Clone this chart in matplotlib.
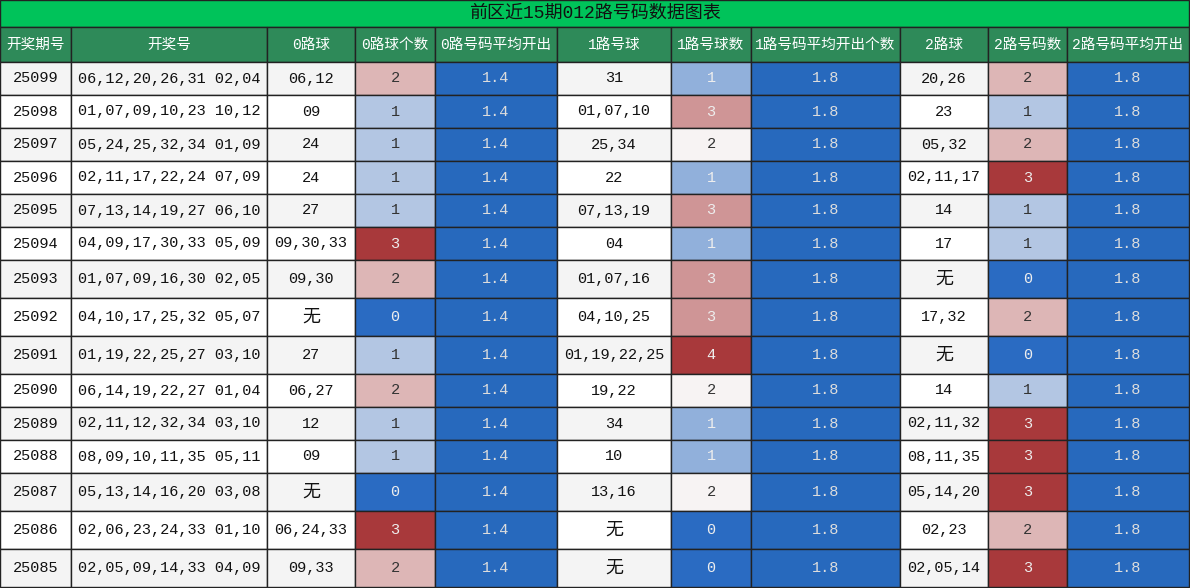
import matplotlib
matplotlib.use("Agg")
import matplotlib.pyplot as plt
from matplotlib.colors import LinearSegmentedColormap, Normalize
from matplotlib.patches import Rectangle

title = "前区近15期012路号码数据图表"
headers = ["开奖期号", "开奖号", "0路球", "0路球个数", "0路号码平均开出", "1路号球", "1路号球数",
           "1路号码平均开出个数", "2路球", "2路号码数", "2路号码平均开出"]
periods = ["25099","25098","25097","25096","25095","25094","25093","25092","25091","25090",
           "25089","25088","25087","25086","25085"]
draws = ["06,12,20,26,31 02,04","01,07,09,10,23 10,12","05,24,25,32,34 01,09","02,11,17,22,24 07,09",
         "07,13,14,19,27 06,10","04,09,17,30,33 05,09","01,07,09,16,30 02,05","04,10,17,25,32 05,07",
         "01,19,22,25,27 03,10","06,14,19,22,27 01,04","02,11,12,32,34 03,10","08,09,10,11,35 05,11",
         "05,13,14,16,20 03,08","02,06,23,24,33 01,10","02,05,09,14,33 04,09"]
balls0 = ["06,12","09","24","24","27","09,30,33","09,30","无","27","06,27","12","09","无","06,24,33","09,33"]
cnt0 = [2,1,1,1,1,3,2,0,1,2,1,1,0,3,2]
avg0 = [1.4]*15
balls1 = ["31","01,07,10","25,34","22","07,13,19","04","01,07,16","04,10,25","01,19,22,25","19,22",
          "34","10","13,16","无","无"]
cnt1 = [1,3,2,1,3,1,3,3,4,2,1,1,2,0,0]
avg1 = [1.8]*15
balls2 = ["20,26","23","05,32","02,11,17","14","17","无","17,32","无","14","02,11,32","08,11,35",
          "05,14,20","02,23","02,05,14"]
cnt2 = [2,1,2,3,1,1,0,2,0,1,3,3,3,2,3]
avg2 = [1.8]*15

W, H = 1190, 588
colx = [0, 71, 267, 355, 435, 557, 671, 751, 900, 988, 1067, 1189]
cmap = LinearSegmentedColormap.from_list("bwr2", ["#2a6bc2", "#f7f4f4", "#a8393b"])
avg_color = "#2769bd"

fig = plt.figure(figsize=(W/100, H/100), dpi=100)
ax = fig.add_axes([0, 0, 1, 1])
ax.set_xlim(0, W); ax.set_ylim(H, 0); ax.axis("off")

mono = "Liberation Mono"
cjk = ["Liberation Mono", "Noto Sans CJK SC"]
plt.rcParams["font.family"] = ["Liberation Mono", "Noto Sans CJK SC"]

def cell(x0, x1, y0, y1, text, bg, tc="#111111", size=11):
    ax.add_patch(Rectangle((x0, y0), x1-x0, y1-y0, facecolor=bg, edgecolor="#222222", lw=1))
    ax.text((x0+x1)/2, (y0+y1)/2, text, ha="center", va="center", color=tc, fontsize=size,
            family=cjk)

cell(0, W-1, 0, 27, title, "#00c35a", "#111111", 13)
for i, h in enumerate(headers):
    cell(colx[i], colx[i+1], 27, 62, h, "#2e8a59", "white", 10.5)

y = 62
counts = [cnt0, cnt1, cnt2]
norms = [Normalize(min(c), max(c)) for c in counts]
for r in range(15):
    rh = 38 if "无" in (balls0[r], balls1[r], balls2[r]) else 33
    rowbg = "#f4f4f4" if r % 2 == 0 else "white"
    vals = [periods[r], draws[r], balls0[r], cnt0[r], avg0[r], balls1[r], cnt1[r], avg1[r],
            balls2[r], cnt2[r], avg2[r]]
    for c, v in enumerate(vals):
        x0, x1 = colx[c], colx[c+1]
        if c in (3, 6, 9):
            k = (c - 3)//3
            col = cmap(norms[k](v))
            lum = 0.299*col[0] + 0.587*col[1] + 0.114*col[2]
            tc = "#333333" if lum > 0.7 else "#eeeeee"
            cell(x0, x1, y, y+rh, str(v), col, tc)
        elif c in (4, 7, 10):
            cell(x0, x1, y, y+rh, f"{v:.1f}", avg_color, "#dddddd")
        else:
            cell(x0, x1, y, y+rh, v, rowbg, "#111111", 13 if v == "无" else 11)
    y += rh

fig.savefig("out.png", dpi=100)
